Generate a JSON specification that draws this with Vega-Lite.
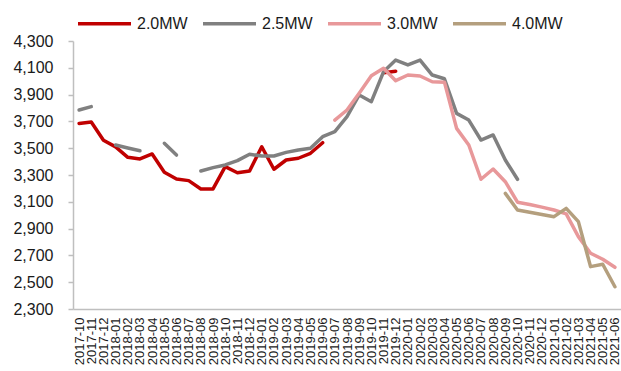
{
  "$schema": "https://vega.github.io/schema/vega-lite/v6.json",
  "width": 548,
  "height": 268,
  "autosize": {"type": "none"},
  "padding": {"left": 73, "top": 41, "right": 0, "bottom": 62},
  "background": "white",
  "config": {
    "view": {"stroke": null},
    "font": "Liberation Sans",
    "axis": {"grid": false, "title": null, "domainColor": "#BFBFBF", "domainWidth": 1.5, "tickColor": "#BFBFBF", "tickWidth": 1.5, "labelColor": "#1a1a1a", "labelFont": "Liberation Sans"}
  },
  "data": {
    "values": [
      {"month": "2017-10", "series": "2.0MW", "seg": "a", "price": 3685},
      {"month": "2017-11", "series": "2.0MW", "seg": "a", "price": 3695},
      {"month": "2017-12", "series": "2.0MW", "seg": "a", "price": 3560},
      {"month": "2018-01", "series": "2.0MW", "seg": "a", "price": 3510},
      {"month": "2018-02", "series": "2.0MW", "seg": "a", "price": 3432},
      {"month": "2018-03", "series": "2.0MW", "seg": "a", "price": 3420},
      {"month": "2018-04", "series": "2.0MW", "seg": "a", "price": 3457},
      {"month": "2018-05", "series": "2.0MW", "seg": "a", "price": 3320},
      {"month": "2018-06", "series": "2.0MW", "seg": "a", "price": 3270},
      {"month": "2018-07", "series": "2.0MW", "seg": "a", "price": 3258},
      {"month": "2018-08", "series": "2.0MW", "seg": "a", "price": 3196},
      {"month": "2018-09", "series": "2.0MW", "seg": "a", "price": 3196},
      {"month": "2018-10", "series": "2.0MW", "seg": "a", "price": 3362},
      {"month": "2018-11", "series": "2.0MW", "seg": "a", "price": 3317},
      {"month": "2018-12", "series": "2.0MW", "seg": "a", "price": 3330},
      {"month": "2019-01", "series": "2.0MW", "seg": "a", "price": 3511},
      {"month": "2019-02", "series": "2.0MW", "seg": "a", "price": 3343},
      {"month": "2019-03", "series": "2.0MW", "seg": "a", "price": 3412},
      {"month": "2019-04", "series": "2.0MW", "seg": "a", "price": 3425},
      {"month": "2019-05", "series": "2.0MW", "seg": "a", "price": 3462},
      {"month": "2019-06", "series": "2.0MW", "seg": "a", "price": 3541},
      {"month": "2019-11", "series": "2.0MW", "seg": "b", "price": 4063},
      {"month": "2019-12", "series": "2.0MW", "seg": "b", "price": 4075},

      {"month": "2017-10", "series": "2.5MW", "seg": "a", "price": 3785},
      {"month": "2017-11", "series": "2.5MW", "seg": "a", "price": 3810},
      {"month": "2018-01", "series": "2.5MW", "seg": "b", "price": 3524},
      {"month": "2018-02", "series": "2.5MW", "seg": "b", "price": 3502},
      {"month": "2018-03", "series": "2.5MW", "seg": "b", "price": 3481},
      {"month": "2018-05", "series": "2.5MW", "seg": "c", "price": 3537},
      {"month": "2018-06", "series": "2.5MW", "seg": "c", "price": 3449},
      {"month": "2018-08", "series": "2.5MW", "seg": "d", "price": 3330},
      {"month": "2018-09", "series": "2.5MW", "seg": "d", "price": 3355},
      {"month": "2018-10", "series": "2.5MW", "seg": "d", "price": 3375},
      {"month": "2018-11", "series": "2.5MW", "seg": "d", "price": 3407},
      {"month": "2018-12", "series": "2.5MW", "seg": "d", "price": 3455},
      {"month": "2019-01", "series": "2.5MW", "seg": "d", "price": 3442},
      {"month": "2019-02", "series": "2.5MW", "seg": "d", "price": 3442},
      {"month": "2019-03", "series": "2.5MW", "seg": "d", "price": 3469},
      {"month": "2019-04", "series": "2.5MW", "seg": "d", "price": 3487},
      {"month": "2019-05", "series": "2.5MW", "seg": "d", "price": 3499},
      {"month": "2019-06", "series": "2.5MW", "seg": "d", "price": 3586},
      {"month": "2019-07", "series": "2.5MW", "seg": "d", "price": 3623},
      {"month": "2019-08", "series": "2.5MW", "seg": "d", "price": 3735},
      {"month": "2019-09", "series": "2.5MW", "seg": "d", "price": 3897},
      {"month": "2019-10", "series": "2.5MW", "seg": "d", "price": 3847},
      {"month": "2019-11", "series": "2.5MW", "seg": "d", "price": 4070},
      {"month": "2019-12", "series": "2.5MW", "seg": "d", "price": 4158},
      {"month": "2020-01", "series": "2.5MW", "seg": "d", "price": 4121},
      {"month": "2020-02", "series": "2.5MW", "seg": "d", "price": 4158},
      {"month": "2020-03", "series": "2.5MW", "seg": "d", "price": 4046},
      {"month": "2020-04", "series": "2.5MW", "seg": "d", "price": 4018},
      {"month": "2020-05", "series": "2.5MW", "seg": "d", "price": 3760},
      {"month": "2020-06", "series": "2.5MW", "seg": "d", "price": 3710},
      {"month": "2020-07", "series": "2.5MW", "seg": "d", "price": 3561},
      {"month": "2020-08", "series": "2.5MW", "seg": "d", "price": 3599},
      {"month": "2020-09", "series": "2.5MW", "seg": "d", "price": 3412},
      {"month": "2020-10", "series": "2.5MW", "seg": "d", "price": 3268},

      {"month": "2019-07", "series": "3.0MW", "seg": "a", "price": 3710},
      {"month": "2019-08", "series": "3.0MW", "seg": "a", "price": 3785},
      {"month": "2019-09", "series": "3.0MW", "seg": "a", "price": 3910},
      {"month": "2019-10", "series": "3.0MW", "seg": "a", "price": 4040},
      {"month": "2019-11", "series": "3.0MW", "seg": "a", "price": 4096},
      {"month": "2019-12", "series": "3.0MW", "seg": "a", "price": 4004},
      {"month": "2020-01", "series": "3.0MW", "seg": "a", "price": 4046},
      {"month": "2020-02", "series": "3.0MW", "seg": "a", "price": 4039},
      {"month": "2020-03", "series": "3.0MW", "seg": "a", "price": 3996},
      {"month": "2020-04", "series": "3.0MW", "seg": "a", "price": 3993},
      {"month": "2020-05", "series": "3.0MW", "seg": "a", "price": 3648},
      {"month": "2020-06", "series": "3.0MW", "seg": "a", "price": 3524},
      {"month": "2020-07", "series": "3.0MW", "seg": "a", "price": 3268},
      {"month": "2020-08", "series": "3.0MW", "seg": "a", "price": 3345},
      {"month": "2020-09", "series": "3.0MW", "seg": "a", "price": 3250},
      {"month": "2020-10", "series": "3.0MW", "seg": "a", "price": 3097},
      {"month": "2020-11", "series": "3.0MW", "seg": "a", "price": 3080},
      {"month": "2020-12", "series": "3.0MW", "seg": "a", "price": 3060},
      {"month": "2021-01", "series": "3.0MW", "seg": "a", "price": 3039},
      {"month": "2021-02", "series": "3.0MW", "seg": "a", "price": 3010},
      {"month": "2021-03", "series": "3.0MW", "seg": "a", "price": 2840},
      {"month": "2021-04", "series": "3.0MW", "seg": "a", "price": 2716},
      {"month": "2021-05", "series": "3.0MW", "seg": "a", "price": 2671},
      {"month": "2021-06", "series": "3.0MW", "seg": "a", "price": 2611},

      {"month": "2020-09", "series": "4.0MW", "seg": "a", "price": 3163},
      {"month": "2020-10", "series": "4.0MW", "seg": "a", "price": 3039},
      {"month": "2020-11", "series": "4.0MW", "seg": "a", "price": 3022},
      {"month": "2020-12", "series": "4.0MW", "seg": "a", "price": 3005},
      {"month": "2021-01", "series": "4.0MW", "seg": "a", "price": 2989},
      {"month": "2021-02", "series": "4.0MW", "seg": "a", "price": 3051},
      {"month": "2021-03", "series": "4.0MW", "seg": "a", "price": 2952},
      {"month": "2021-04", "series": "4.0MW", "seg": "a", "price": 2616},
      {"month": "2021-05", "series": "4.0MW", "seg": "a", "price": 2634},
      {"month": "2021-06", "series": "4.0MW", "seg": "a", "price": 2466}
    ]
  },
  "mark": {"type": "line", "strokeCap": "round", "strokeJoin": "round"},
  "encoding": {
    "x": {
      "field": "month",
      "type": "ordinal",
      "scale": {"type": "point", "padding": 0.5},
      "axis": {"labelAngle": 270, "labelFontSize": 13, "ticks": false, "tickSize": 0, "labelPadding": 8, "labelOverlap": false}
    },
    "y": {
      "field": "price",
      "type": "quantitative",
      "scale": {"domain": [2300, 4300], "nice": false, "zero": false},
      "axis": {"values": [2300, 2500, 2700, 2900, 3100, 3300, 3500, 3700, 3900, 4100, 4300], "format": ",.0f", "labelFontSize": 16, "tickSize": 5, "labelPadding": 15}
    },
    "color": {
      "field": "series",
      "type": "nominal",
      "scale": {"domain": ["2.0MW", "2.5MW", "3.0MW", "4.0MW"], "range": ["#C00000", "#808080", "#E8989A", "#B49F7E"]},
      "legend": {
        "orient": "none", "legendX": 3, "legendY": -46, "direction": "horizontal",
        "title": null, "padding": 0, "symbolType": "stroke", "symbolSize": 2809,
        "symbolStrokeWidth": 4, "labelFontSize": 16, "labelColor": "#1a1a1a",
        "labelOffset": 4, "columnPadding": 8
      }
    },
    "strokeWidth": {
      "field": "series",
      "type": "nominal",
      "scale": {"domain": ["2.0MW", "2.5MW", "3.0MW", "4.0MW"], "range": [3.5, 3.5, 3.5, 4.8]},
      "legend": null
    },
    "detail": {"field": "seg"}
  }
}
